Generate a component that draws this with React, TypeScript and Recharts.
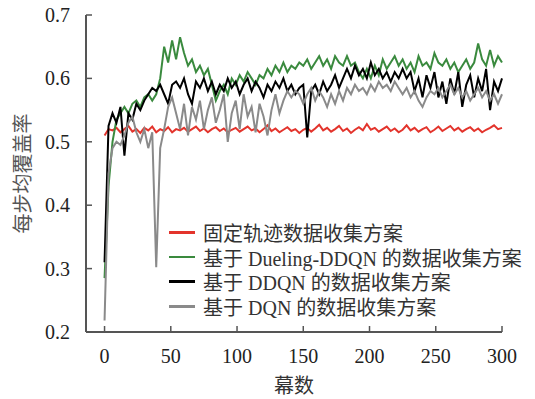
import { LineChart, Line, XAxis, YAxis, Legend } from "recharts";

// episode index (sampled every 3 episodes)
const episodes = [
  0, 3, 6, 9, 12, 15, 18, 21, 24, 27,
  30, 33, 36, 39, 42, 45, 48, 51, 54, 57,
  60, 63, 66, 69, 72, 75, 78, 81, 84, 87,
  90, 93, 96, 99, 102, 105, 108, 111, 114, 117,
  120, 123, 126, 129, 132, 135, 138, 141, 144, 147,
  150, 153, 156, 159, 162, 165, 168, 171, 174, 177,
  180, 183, 186, 189, 192, 195, 198, 201, 204, 207,
  210, 213, 216, 219, 222, 225, 228, 231, 234, 237,
  240, 243, 246, 249, 252, 255, 258, 261, 264, 267,
  270, 273, 276, 279, 282, 285, 288, 291, 294, 297,
  300,
];

const fixedTrack = [
  0.51, 0.52, 0.518, 0.522, 0.515, 0.52, 0.525, 0.516, 0.52, 0.514,
  0.522, 0.518, 0.524, 0.515, 0.52, 0.517, 0.523, 0.515, 0.52, 0.518,
  0.522, 0.516, 0.52, 0.524, 0.517, 0.521, 0.515, 0.52, 0.523, 0.517,
  0.521, 0.515, 0.519, 0.522, 0.516, 0.52, 0.524, 0.518, 0.521, 0.515,
  0.52, 0.526, 0.517, 0.521, 0.515, 0.519, 0.523, 0.517, 0.52, 0.514,
  0.519, 0.522, 0.516, 0.521, 0.527, 0.518, 0.522, 0.516, 0.52, 0.525,
  0.517, 0.521, 0.514, 0.519, 0.523, 0.518, 0.528, 0.519, 0.522, 0.516,
  0.52, 0.524, 0.517, 0.521, 0.515, 0.519, 0.526, 0.518, 0.522, 0.516,
  0.52, 0.523, 0.515, 0.519, 0.524, 0.517, 0.521, 0.525, 0.518, 0.522,
  0.516, 0.52, 0.523, 0.517, 0.521, 0.515, 0.519, 0.522, 0.526, 0.52,
  0.522,
];

const duelingDdqn = [
  0.285, 0.43, 0.5, 0.535, 0.545, 0.555, 0.545, 0.56, 0.565, 0.555,
  0.57, 0.575, 0.565, 0.575, 0.6, 0.65, 0.625, 0.66, 0.63, 0.665,
  0.64, 0.62, 0.63, 0.61, 0.62, 0.605, 0.615, 0.59, 0.565, 0.58,
  0.59, 0.575, 0.6, 0.59, 0.605, 0.595, 0.61, 0.6, 0.59, 0.605,
  0.6, 0.615, 0.605, 0.62, 0.61, 0.625, 0.61, 0.62, 0.615, 0.625,
  0.62, 0.63, 0.615, 0.625, 0.635, 0.62, 0.63, 0.615, 0.635, 0.625,
  0.62, 0.635, 0.62, 0.625, 0.61, 0.6, 0.615, 0.6, 0.62, 0.605,
  0.63, 0.615, 0.625, 0.635, 0.62, 0.63, 0.615, 0.625, 0.61, 0.635,
  0.62, 0.625, 0.615, 0.64, 0.625, 0.62, 0.63, 0.615, 0.625, 0.61,
  0.62, 0.63, 0.615, 0.625, 0.655, 0.63, 0.62, 0.645, 0.62, 0.635,
  0.625,
];

const ddqn = [
  0.31, 0.525, 0.545, 0.53, 0.555, 0.478, 0.545, 0.535, 0.56, 0.55,
  0.565, 0.575, 0.585, 0.58, 0.59, 0.575, 0.56, 0.59, 0.595, 0.585,
  0.6, 0.575, 0.56, 0.595, 0.585, 0.6, 0.58, 0.595, 0.575, 0.59,
  0.58, 0.6, 0.585, 0.595, 0.575, 0.59, 0.6, 0.58, 0.595, 0.585,
  0.57, 0.59, 0.58, 0.595, 0.585, 0.6, 0.58, 0.59, 0.575, 0.585,
  0.59, 0.507, 0.58, 0.59, 0.575, 0.595, 0.58, 0.59, 0.605, 0.585,
  0.6, 0.615, 0.6, 0.62, 0.605, 0.615, 0.6, 0.625, 0.605, 0.615,
  0.6, 0.61, 0.595, 0.61, 0.6, 0.615, 0.6, 0.61, 0.58, 0.6,
  0.57, 0.605, 0.585, 0.61, 0.57, 0.595, 0.56, 0.6, 0.575, 0.61,
  0.555, 0.59, 0.605, 0.57, 0.6, 0.58, 0.615, 0.55, 0.595, 0.58,
  0.6,
];

const dqn = [
  0.218, 0.45, 0.49, 0.5, 0.495, 0.51, 0.53, 0.54, 0.515, 0.5,
  0.52, 0.49, 0.515, 0.302, 0.49, 0.52, 0.555, 0.57, 0.545, 0.52,
  0.56, 0.51, 0.555, 0.535, 0.565, 0.52, 0.55, 0.57, 0.53, 0.55,
  0.575, 0.5, 0.545, 0.565, 0.52, 0.575, 0.54, 0.555, 0.515, 0.56,
  0.54, 0.51, 0.55, 0.575, 0.545, 0.565, 0.58, 0.57, 0.58, 0.575,
  0.56, 0.575, 0.585, 0.565, 0.58, 0.57, 0.555, 0.575, 0.56, 0.58,
  0.565, 0.585, 0.575, 0.59, 0.58, 0.585, 0.575, 0.59, 0.58, 0.595,
  0.585, 0.59, 0.58, 0.595, 0.585, 0.575, 0.585, 0.57, 0.58, 0.565,
  0.555, 0.57, 0.58, 0.575, 0.585, 0.57, 0.58, 0.59, 0.575, 0.585,
  0.57, 0.58, 0.565, 0.575, 0.585, 0.57, 0.58, 0.565, 0.575, 0.56,
  0.575,
];

const yTicks = [0.2, 0.3, 0.4, 0.5, 0.6, 0.7];
const xTicks = [0, 50, 100, 150, 200, 250, 300];

const SERIES = [
  { key: "fixed", name: "固定轨迹数据收集方案", color: "#e3342c" },
  { key: "dueling", name: "基于 Dueling-DDQN 的数据收集方案", color: "#3a8a3e" },
  { key: "ddqn", name: "基于 DDQN 的数据收集方案", color: "#000000" },
  { key: "dqn", name: "基于 DQN 的数据收集方案", color: "#8a8a8a" },
];

const data = episodes.map((ep, i) => ({
  ep,
  fixed: fixedTrack[i],
  dueling: duelingDdqn[i],
  ddqn: ddqn[i],
  dqn: dqn[i],
}));

const FONT = '"Liberation Serif", "Noto Sans CJK SC", serif';
const AXIS = "#555";

const YTick = (props: any) => {
  const { x, y, payload } = props;
  return (
    <g>
      <line x1={x} x2={x + 6} y1={y} y2={y} stroke={AXIS} strokeWidth={1.5} />
      <text x={x - 16} y={y} textAnchor="end" dominantBaseline="central" fontSize={20} fontFamily={FONT} fill="#222">
        {Number(payload.value).toFixed(1)}
      </text>
    </g>
  );
};

const XTick = (props: any) => {
  const { x, y, payload } = props;
  return (
    <g>
      <line x1={x} x2={x} y1={y} y2={y - 6} stroke={AXIS} strokeWidth={1.5} />
      <text x={x} y={y + 24} textAnchor="middle" dominantBaseline="central" fontSize={20} fontFamily={FONT} fill="#222">
        {payload.value}
      </text>
    </g>
  );
};

const LegendBox = () => (
  <div style={{ fontFamily: FONT, fontSize: 20, color: "#333" }}>
    {SERIES.map((s) => (
      <div key={s.key} style={{ display: "flex", alignItems: "center", height: 24.7, whiteSpace: "nowrap" }}>
        <span style={{ display: "inline-block", width: 26, height: 2.5, background: s.color, marginRight: 8 }} />
        <span>{s.name}</span>
      </div>
    ))}
  </div>
);

export default function App() {
  return (
    <div style={{ margin: "-8px 0 0 -8px" }}>
      <LineChart width={535} height={399} data={data} margin={{ top: 15, right: 33, bottom: 0, left: 0 }}>
        <XAxis
          dataKey="ep"
          type="number"
          domain={[-14, 300]}
          ticks={xTicks}
          height={67}
          tickSize={0}
          tickMargin={0}
          tickLine={false}
          tick={<XTick />}
          axisLine={{ stroke: AXIS, strokeWidth: 2 }}
          label={(props: any) => {
            const vb = props.viewBox;
            return (
              <text x={vb.x + vb.width / 2} y={386} textAnchor="middle" dominantBaseline="central" fontSize={20} fontFamily={FONT} fill="#333">
                幕数
              </text>
            );
          }}
        />
        <YAxis
          type="number"
          domain={[0.2, 0.7]}
          ticks={yTicks}
          width={86}
          tickSize={0}
          tickMargin={0}
          tickLine={false}
          tick={<YTick />}
          axisLine={{ stroke: AXIS, strokeWidth: 2 }}
          label={(props: any) => {
            const vb = props.viewBox;
            const cy = vb.y + vb.height / 2;
            return (
              <text x={23} y={cy} transform={`rotate(-90 23 ${cy})`} textAnchor="middle" dominantBaseline="central" fontSize={20} fontFamily={FONT} fill="#555">
                每步均覆盖率
              </text>
            );
          }}
        />
        <Legend
          layout="vertical"
          align="center"
          verticalAlign="middle"
          content={<LegendBox />}
          wrapperStyle={{ left: 169, top: 220, width: "auto" }}
        />
        {SERIES.map((s) => (
          <Line
            key={s.key}
            type="linear"
            dataKey={s.key}
            name={s.name}
            stroke={s.color}
            strokeWidth={2}
            dot={false}
            isAnimationActive={false}
          />
        ))}
      </LineChart>
    </div>
  );
}
